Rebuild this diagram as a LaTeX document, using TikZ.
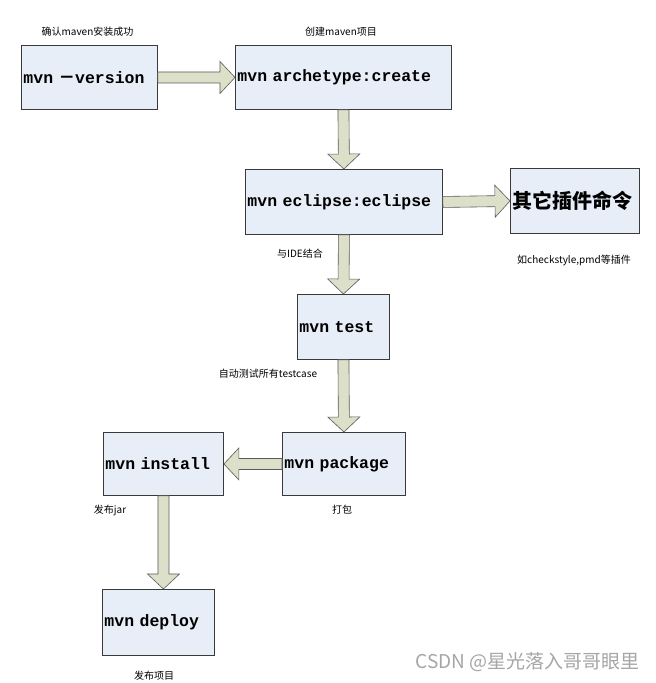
\documentclass[tikz,border=0pt]{standalone}
\usepackage{fontspec}
\setmonofont{Liberation Mono}
\newfontfamily\cjk{Noto Sans CJK SC}
\usetikzlibrary{calc}
\definecolor{boxfill}{HTML}{E8EEF8}
\definecolor{arrfill}{HTML}{DCE0C9}
\definecolor{edge}{HTML}{3A3A3A}
\definecolor{arrline}{HTML}{5A5A5A}
\definecolor{wm}{HTML}{A6A6A6}
\tikzset{
  cmdbox/.style={draw=edge, line width=0.9pt, fill=boxfill, rectangle,
    inner xsep=2pt, inner ysep=0pt, anchor=north west, align=left,
    font=\ttfamily\bfseries\fontsize{16.5}{18}\selectfont},
  note/.style={font=\cjk\fontsize{10}{12}\selectfont, inner sep=0pt},
  blockarrow/.style={draw=arrline, fill=arrfill, line width=0.6pt,
    to path={
      ($(\tikztostart)!5.5pt!90:(\tikztotarget)$) --
      ($(\tikztotarget)!15.977pt!-20.14:(\tikztostart)$) --
      ($(\tikztotarget)!21.93pt!-46.85:(\tikztostart)$) --
      (\tikztotarget) --
      ($(\tikztotarget)!21.93pt!46.85:(\tikztostart)$) --
      ($(\tikztotarget)!15.977pt!20.14:(\tikztostart)$) --
      ($(\tikztostart)!5.5pt!-90:(\tikztotarget)$) -- cycle}}
}
\begin{document}
\begin{tikzpicture}[x=1pt,y=-1pt]
\useasboundingbox[fill=white] (0,0) rectangle (656,683);

% boxes
\node[cmdbox, minimum width=136pt, minimum height=64pt, text width=132pt] (v) at (21,45) {mvn {\cjk －}version};
\node[cmdbox, minimum width=216pt, minimum height=64pt, text width=212pt] (a) at (235,45) {mvn archetype:create};
\node[cmdbox, minimum width=197pt, minimum height=65pt, text width=193pt] (e) at (245,169) {mvn eclipse:eclipse};
\node[cmdbox, minimum width=129pt, minimum height=65pt, text width=125pt, font=\cjk\bfseries\fontsize{20}{22}\selectfont] (o) at (510,168) {其它插件命令};
\node[cmdbox, minimum width=92pt, minimum height=65pt, text width=88pt] (t) at (297,294) {mvn test};
\node[cmdbox, minimum width=123pt, minimum height=63pt, text width=119pt] (p) at (282,432) {mvn package};
\node[cmdbox, minimum width=120pt, minimum height=63pt, text width=116pt] (i) at (103,432) {mvn install};
\node[cmdbox, minimum width=112pt, minimum height=66pt, text width=108pt] (d) at (102,589) {mvn deploy};

% arrows
\draw[blockarrow] (v.east) to (a.west);
\draw[blockarrow] (a.south) to (e.north);
\draw[blockarrow] (e.east) to (o.west);
\draw[blockarrow] (e.south) to (t.north);
\draw[blockarrow] (t.south) to (p.north);
\draw[blockarrow] (p.west) to (i.east);
\coordinate (dtop) at (i.south |- d.north);
\draw[blockarrow] (i.south) to (dtop);

% notes
\node[note] (n1) at (87.5,32) {确认maven安装成功};
\node[note] (n2) at (341,32) {创建maven项目};
\node[note] (n3) at (300,254) {与IDE结合};
\node[note] (n4) at (574,260) {如checkstyle,pmd等插件};
\node[note] (n5) at (268,374) {自动测试所有testcase};
\node[note] (n6) at (110,510) {发布jar};
\node[note] (n7) at (342,510) {打包};
\node[note] (n8) at (154,676) {发布项目};
\node[font=\cjk\fontsize{19}{21}\selectfont, text=wm, inner sep=0pt, anchor=east] (wmk) at (640,662) {CSDN @星光落入哥哥眼里};
\end{tikzpicture}
\end{document}
